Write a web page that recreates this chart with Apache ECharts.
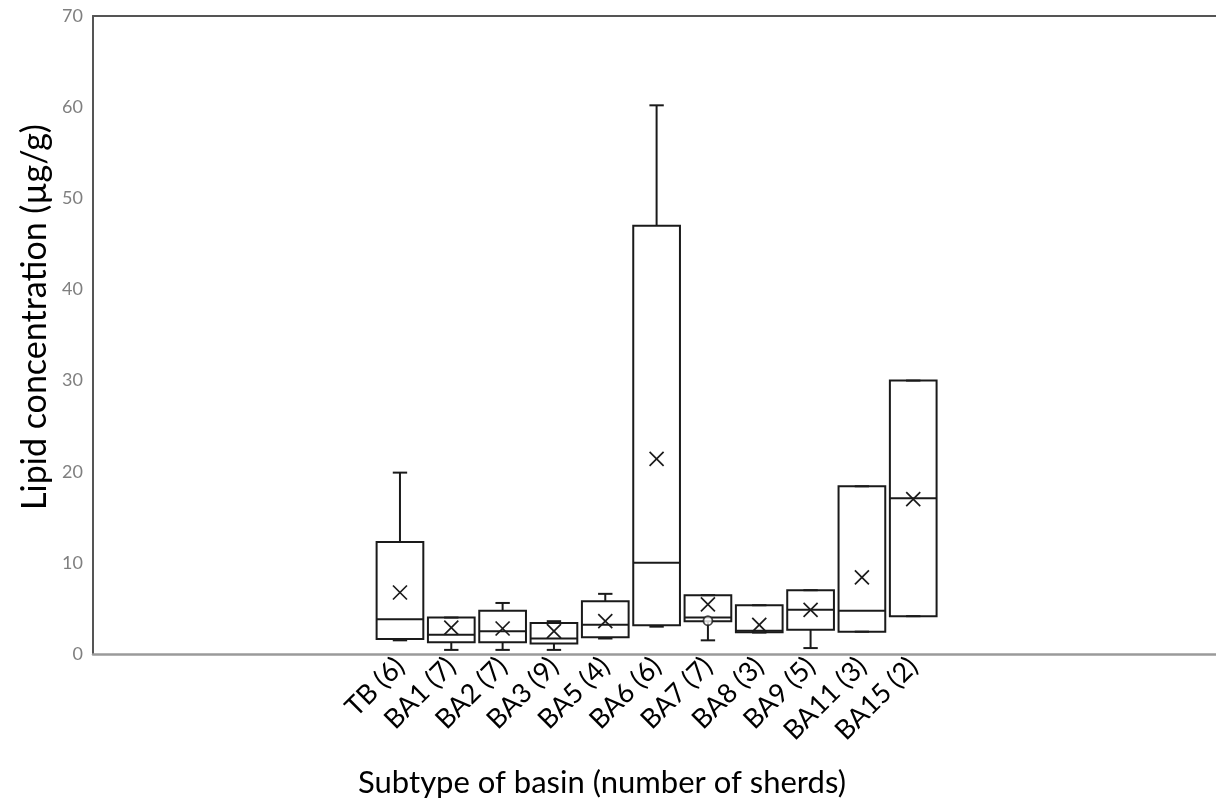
<!DOCTYPE html>
<html>
<head>
<meta charset="utf-8">
<script src="https://cdn.jsdelivr.net/npm/echarts@6/dist/echarts.min.js"></script>
<style>
  html, body { margin: 0; padding: 0; background: #ffffff; }
  #chart { width: 1216px; height: 811px; }
</style>
</head>
<body>
<div id="chart"></div>
<script>
// Basin subtypes with the number of sherds analysed
const categories = ['TB (6)', 'BA1 (7)', 'BA2 (7)', 'BA3 (9)', 'BA5 (4)', 'BA6 (6)',
                    'BA7 (7)', 'BA8 (3)', 'BA9 (5)', 'BA11 (3)', 'BA15 (2)'];

// Five-number summaries, lipid concentration in µg/g
const whiskerLow  = [1.5, 0.45, 0.45, 0.45, 1.7, 3.0, 1.5, 2.35, 0.65, 2.45, 4.15];
const quartile1   = [1.65, 1.3, 1.3, 1.15, 1.85, 3.15, 3.6, 2.4, 2.65, 2.45, 4.15];
const medians     = [3.8, 2.1, 2.5, 1.7, 3.2, 10.0, 4.0, 2.55, 4.85, 4.75, 17.1];
const quartile3   = [12.3, 4.0, 4.75, 3.4, 5.8, 47.0, 6.45, 5.35, 7.0, 18.4, 30.0];
const whiskerHigh = [19.9, 4.0, 5.6, 3.6, 6.6, 60.2, 6.45, 5.35, 7.0, 18.4, 30.0];
const means       = [6.75, 2.9, 2.8, 2.5, 3.6, 21.4, 5.45, 3.2, 4.85, 8.4, 17.0];

// Individual points plotted outside the box summary: [category index, value]
const outliers = [[6, 3.65]];

const yMin = 0, yMax = 70, yStep = 10;

const FONT = 'Lato';
const INK = '#1a1a1a';

const boxData = categories.map((c, i) =>
  [i, whiskerLow[i], quartile1[i], medians[i], quartile3[i], whiskerHigh[i]]);
const meanData = categories.map((c, i) => [i, means[i]]);

function renderBox(params, api) {
  const i = api.value(0);
  const band = api.size([1, 0])[0];
  const half = band * 0.455;
  const cap = band * 0.14;
  const pLow = api.coord([i, api.value(1)]);
  const pQ1 = api.coord([i, api.value(2)]);
  const pMed = api.coord([i, api.value(3)]);
  const pQ3 = api.coord([i, api.value(4)]);
  const pHigh = api.coord([i, api.value(5)]);
  const x = pMed[0];
  const st = { stroke: INK, lineWidth: 2, fill: null };
  return {
    type: 'group',
    children: [
      { type: 'line', shape: { x1: x, y1: pQ3[1], x2: x, y2: pHigh[1] }, style: st },
      { type: 'line', shape: { x1: x, y1: pQ1[1], x2: x, y2: pLow[1] }, style: st },
      { type: 'line', shape: { x1: x - cap, y1: pHigh[1], x2: x + cap, y2: pHigh[1] }, style: st },
      { type: 'line', shape: { x1: x - cap, y1: pLow[1], x2: x + cap, y2: pLow[1] }, style: st },
      { type: 'rect', shape: { x: x - half, y: pQ3[1], width: half * 2, height: pQ1[1] - pQ3[1] },
        style: { stroke: INK, lineWidth: 2, fill: 'rgba(255,255,255,0)' } },
      { type: 'line', shape: { x1: x - half, y1: pMed[1], x2: x + half, y2: pMed[1] }, style: st }
    ]
  };
}

function renderMean(params, api) {
  const p = api.coord([api.value(0), api.value(1)]);
  const r = 7;
  const st = { stroke: INK, lineWidth: 1.7, fill: null };
  return {
    type: 'group',
    children: [
      { type: 'line', shape: { x1: p[0] - r, y1: p[1] - r, x2: p[0] + r, y2: p[1] + r }, style: st },
      { type: 'line', shape: { x1: p[0] - r, y1: p[1] + r, x2: p[0] + r, y2: p[1] - r }, style: st }
    ]
  };
}

const chart = echarts.init(document.getElementById('chart'), null, { renderer: 'canvas' });

chart.setOption({
  backgroundColor: '#ffffff',
  animation: false,
  textStyle: { fontFamily: FONT },
  grid: [
    // frame spanning the full plotting width
    { left: 93, right: 0, top: 16, bottom: 157 },
    // band holding the boxes
    { left: 374.3, right: 277.1, top: 16, bottom: 157 }
  ],
  xAxis: [
    { gridIndex: 0, type: 'value', min: 0, max: 1, position: 'bottom',
      axisLine: { show: true, lineStyle: { color: '#9a9a9a', width: 2.5 } },
      axisTick: { show: false }, axisLabel: { show: false }, splitLine: { show: false } },
    { gridIndex: 0, type: 'value', min: 0, max: 1, position: 'top',
      axisLine: { show: true, lineStyle: { color: '#555555', width: 2 } },
      axisTick: { show: false }, axisLabel: { show: false }, splitLine: { show: false } },
    { gridIndex: 1, type: 'category', data: categories,
      axisLine: { show: false }, axisTick: { show: false }, splitLine: { show: false },
      axisLabel: { interval: 0, rotate: 45, margin: 8, color: '#000000',
                   fontFamily: FONT, fontSize: 27 } }
  ],
  yAxis: [
    { gridIndex: 0, type: 'value', min: yMin, max: yMax, interval: yStep,
      axisLine: { show: true, lineStyle: { color: '#555555', width: 2 } },
      axisTick: { show: false }, splitLine: { show: false },
      axisLabel: { color: '#7f7f7f', fontFamily: FONT, fontSize: 18, margin: 10 } },
    { gridIndex: 1, type: 'value', min: yMin, max: yMax, interval: yStep, show: false,
      splitLine: { show: false } }
  ],
  graphic: [
    { type: 'text', x: 35, y: 317, rotation: Math.PI / 2,
      style: { text: 'Lipid concentration (µg/g)', fill: '#000000',
               font: '34px ' + FONT, textAlign: 'center', textVerticalAlign: 'middle' } },
    { type: 'text', x: 602, y: 783,
      style: { text: 'Subtype of basin (number of sherds)', fill: '#000000',
               font: '31px ' + FONT, textAlign: 'center', textVerticalAlign: 'middle' } }
  ],
  series: [
    { type: 'custom', name: 'box', xAxisIndex: 2, yAxisIndex: 1,
      renderItem: renderBox, data: boxData, z: 2 },
    { type: 'custom', name: 'mean', xAxisIndex: 2, yAxisIndex: 1,
      renderItem: renderMean, data: meanData, z: 3 },
    { type: 'scatter', name: 'outlier', xAxisIndex: 2, yAxisIndex: 1,
      symbol: 'circle', symbolSize: 9, data: outliers, z: 4,
      itemStyle: { color: '#ffffff', borderColor: INK, borderWidth: 1.8 } }
  ]
});
</script>
</body>
</html>
